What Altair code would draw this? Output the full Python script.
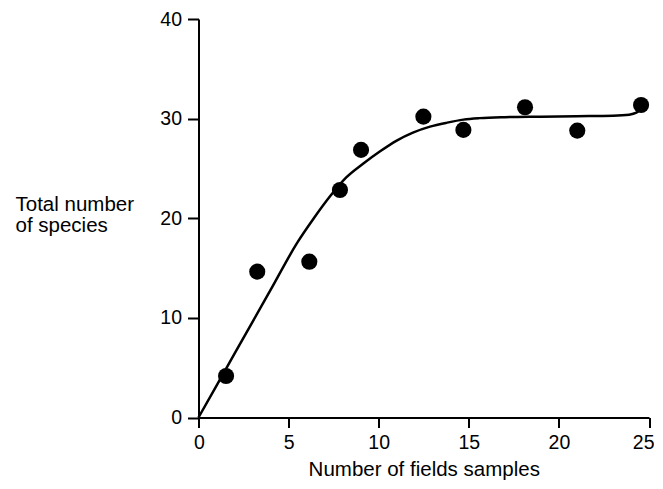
import altair as alt
import pandas as pd

# Observed points (fields sampled vs total species)
pt_x = [1.53, 3.26, 6.15, 7.85, 9.02, 12.48, 14.7, 18.12, 21.02, 24.56]
pt_y = [4.17, 14.64, 15.64, 22.84, 26.86, 30.2, 28.87, 31.14, 28.8, 31.37]

# Fitted curve
curve_x = [0, 2, 4, 5.5, 6.4, 7.3, 8.2, 9.15, 10.1, 11.0, 11.9, 12.85, 13.8,
           14.7, 15.6, 17, 19, 21, 23, 23.9, 24.3, 24.6]
curve_y = [0, 6.4, 12.8, 17.6, 20.0, 22.2, 24.1, 25.5, 26.75, 27.8, 28.6, 29.2,
           29.6, 29.9, 30.05, 30.15, 30.2, 30.25, 30.3, 30.4, 30.6, 31.0]

x_ticks = [0, 5, 10, 15, 20, 25]
y_ticks = [0, 10, 20, 30, 40]

pts = pd.DataFrame({"x": pt_x, "y": pt_y})
crv = pd.DataFrame({"x": curve_x, "y": curve_y})

FONT = "Liberation Sans"

xscale = alt.Scale(domain=[0, 25], nice=False, zero=False)
yscale = alt.Scale(domain=[0, 40], nice=False, zero=False)

common = dict(
    grid=False, domainColor="black", domainWidth=2, tickColor="black",
    tickWidth=2, labelColor="black", labelFont=FONT, labelFontSize=19.5,
    labelPadding=6, labelOverlap=False,
    titleFontSize=20.5, titleFont=FONT,
    titleFontWeight="normal", titleColor="black",
)

xaxis = alt.Axis(
    values=x_ticks, title="Number of fields samples", tickSize=10,
    labelFlush=True, labelFlushOffset=5,
    titleBaseline="alphabetic", titleY=58, **common,
)
yaxis = alt.Axis(
    values=y_ticks, title=["Total number", "of species"], tickSize=11,
    labelFlush=False,
    titleAngle=0, titleAlign="left", titleBaseline="top",
    titleX=-183.5, titleY=175.5, titleLineHeight=20.5, **common,
)

line = alt.Chart(crv).mark_line(color="black", strokeWidth=2.5, interpolate="monotone").encode(
    x=alt.X("x:Q", scale=xscale, axis=xaxis),
    y=alt.Y("y:Q", scale=yscale, axis=yaxis),
)

dots = alt.Chart(pts).mark_circle(color="black", opacity=1, size=260).encode(
    x=alt.X("x:Q", scale=xscale),
    y=alt.Y("y:Q", scale=yscale),
)

chart = alt.layer(line, dots).properties(
    width=450.5, height=398.5,
    background="white",
    autosize=alt.AutoSizeParams(type="none"),
    padding={"left": 190.5, "top": 11, "right": 5, "bottom": 62.5},
).configure_view(stroke=None)

chart.save("out.html", embed_options={"renderer": "svg", "actions": False})
